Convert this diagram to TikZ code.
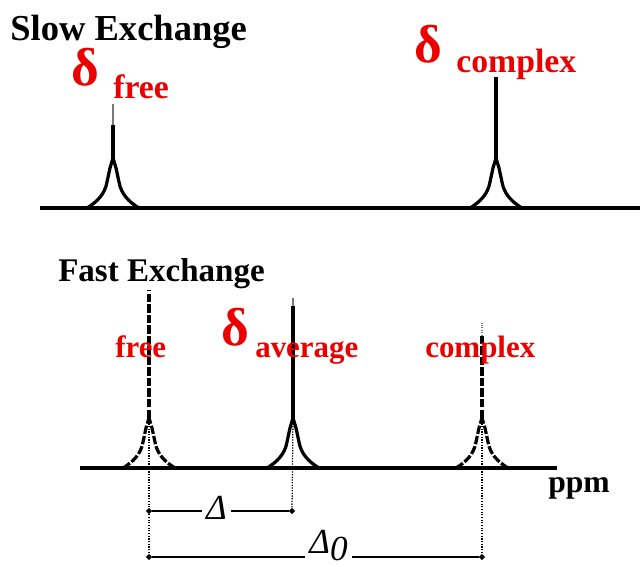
\documentclass[tikz,border=0pt]{standalone}
\usepackage{fontspec}
\setmainfont{Liberation Serif}
\usepackage{tikz}
\usetikzlibrary{
  positioning,
  shapes.geometric
}
\definecolor{shiftred}{RGB}{235,0,0}
\definecolor{tipgray}{RGB}{120,120,120}

\begin{document}
\begin{tikzpicture}[
            x=0.025cm, y=-0.025cm,
            hdr/.style={font=\fontsize{26}{30}\selectfont\bfseries, anchor=base west, inner sep=0pt},
            dlt/.style={text=shiftred, font=\fontsize{38}{42}\selectfont\bfseries, anchor=base west, inner sep=0pt},
            sub/.style={text=shiftred, font=\fontsize{24}{28}\selectfont\bfseries, anchor=base west, inner sep=0pt},
            subsmall/.style={sub, font=\fontsize{22}{26}\selectfont\bfseries},
            axisline/.style={line width=2.8pt},
            flank/.style={line width=2.3pt},
            spike/.style={line width=2.6pt},
            brokenline/.style={dash pattern=on 6pt off 1.5pt},
            tipline/.style={line width=0.8pt, draw=tipgray},
            guide/.style={densely dotted, line width=0.9pt},
            tick/.style={diamond, fill=black, inner sep=0pt, minimum size=4.5pt},
            span/.style={line width=1pt},
            gap/.style={fill=white, inner xsep=3pt, inner ysep=0.5pt, font=\fontsize{25}{28}\selectfont\itshape}
        ]
            \useasboundingbox (0,0) rectangle (640,567);
            % spectrum baselines
            \draw[axisline] (40,208) -- (640,208);
            \draw[axisline] (80,468) -- (557,468);

            % peak flanks: x, base, style
            \foreach \c/\b/\s in {113/208/solid, 496/208/solid, 149/468/brokenline, 293/468/solid, 482/468/brokenline}{
                \draw[flank, \s] (\c-26,\b) .. controls (\c-16,\b-6) and (\c-8,\b-14) .. (\c-6,\b-26) -- (\c-3,\b-40) -- (\c,\b-50);
                \draw[flank, \s] (\c+26,\b) .. controls (\c+16,\b-6) and (\c+8,\b-14) .. (\c+6,\b-26) -- (\c+3,\b-40) -- (\c,\b-50);
            }

            % slow exchange
            \node[hdr] (slow) at (10,40) {Slow Exchange};
            \coordinate (sfree) at (113,160);
            \coordinate (scomplex) at (496,160);
            \draw[spike] (sfree) -- (113,125);
            \draw[tipline] (113,125) -- (113,104);
            \draw[spike] (scomplex) -- (496,77);
            \node[dlt] (dfree) at (71,85) {δ};
            \node[sub] (lfree) at (113,98) {free};
            \node[dlt] (dcomplex) at (414,62) {δ};
            \node[sub] (lcomplex) at (456,72) {complex};

            % fast exchange
            \node[hdr, font=\fontsize{23.5}{28}\selectfont\bfseries] (fast) at (58,281) {Fast Exchange};
            \coordinate (ffree) at (149,418);
            \coordinate (faverage) at (293,418);
            \coordinate (fcomplex) at (482,418);
            \draw[spike, brokenline] (ffree) -- (149,290);
            \draw[spike] (faverage) -- (293,306);
            \draw[tipline] (293,306) -- (293,298);
            \draw[spike, brokenline] (fcomplex) -- (482,336);
            \draw[tipline, densely dotted] (482,336) -- (482,323);
            \node[subsmall] (ffreelbl) at (115,357) {free};
            \node[dlt] (davg) at (221,345) {δ};
            \node[subsmall] (lavg) at (255,357) {average};
            \node[subsmall] (fcomplexlbl) at (425,357) {complex};
            \node[hdr, font=\fontsize{22.5}{26}\selectfont\bfseries] (ppm) at (548,492) {ppm};

            % shift markers
            \node[tick] (a1) at (149,511) {};
            \node[tick] (a2) at (292,511) {};
            \node[tick] (b1) at (149,557) {};
            \node[tick] (b2) at (482,557) {};
            \draw[guide] (ffree) -- (b1);
            \draw[guide] (faverage) -- (a2);
            \draw[guide] (fcomplex) -- (b2);
            \draw[span] (a1) -- node[gap, pos=0.47, yshift=2pt] {Δ} (a2);
            \draw[span] (b1) -- node[gap, pos=0.54, yshift=8pt] {Δ\raisebox{-0.45ex}{0}} (b2);
        \end{tikzpicture}
\end{document}
